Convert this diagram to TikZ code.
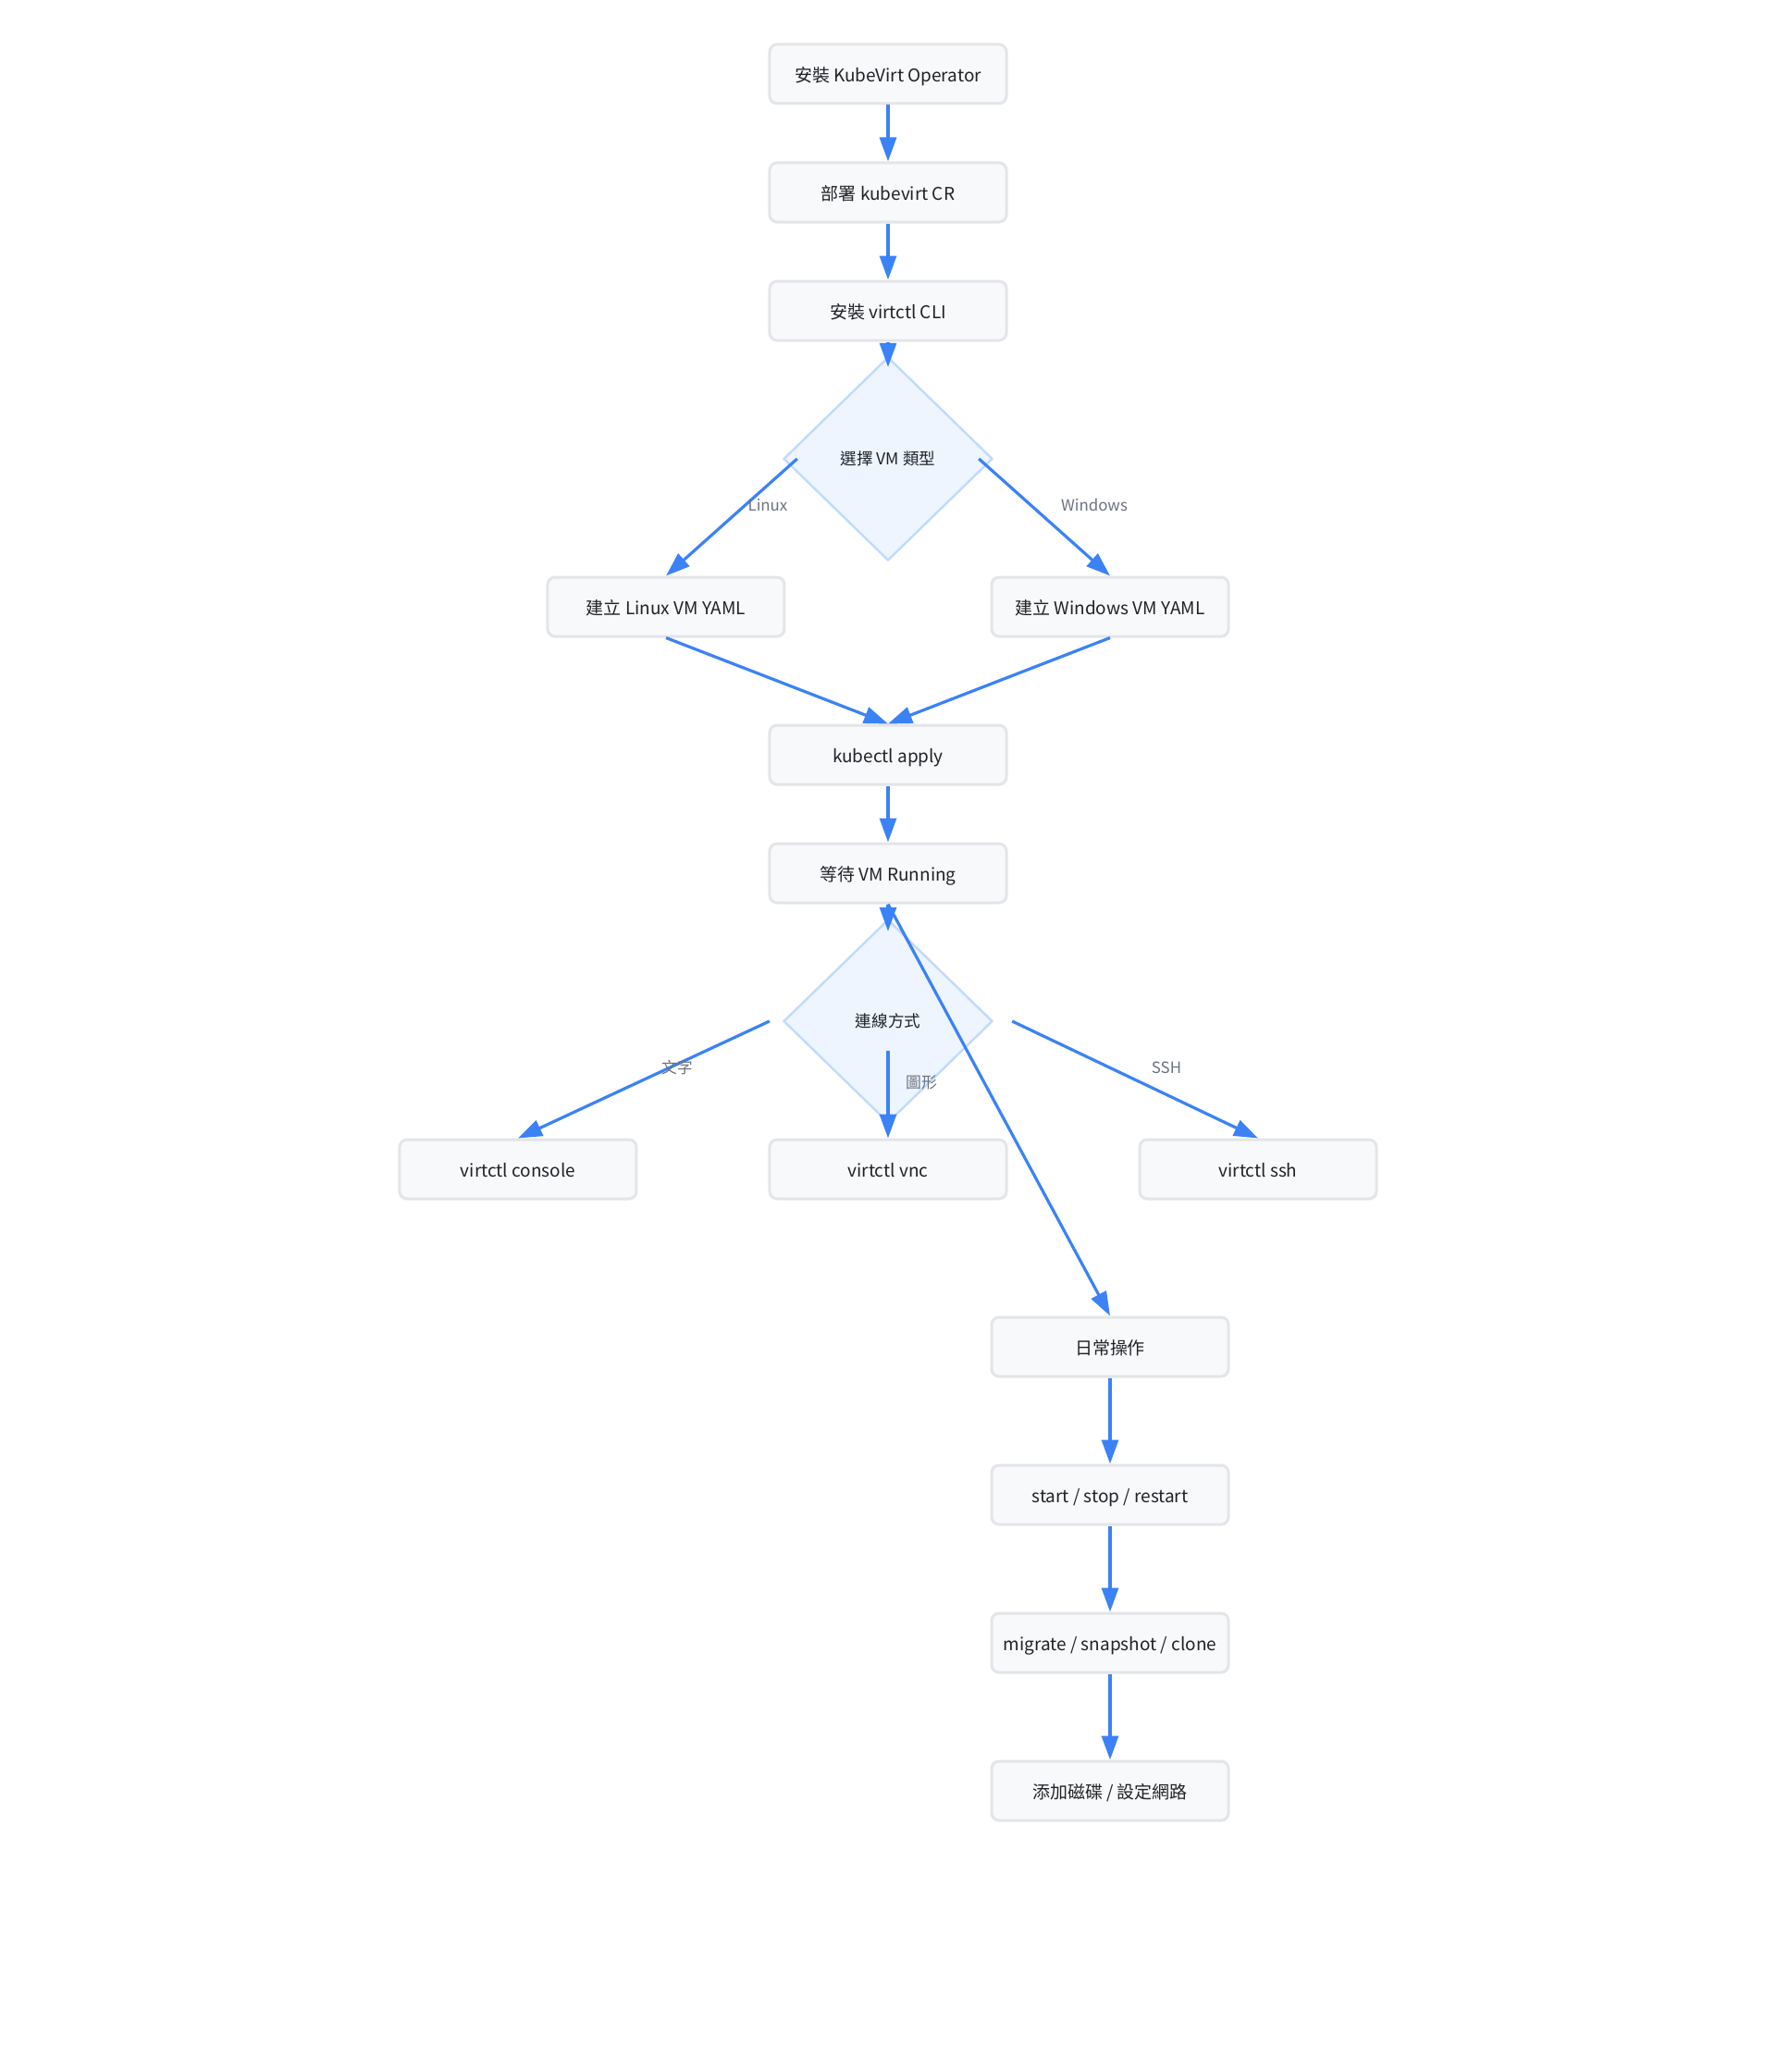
\documentclass[tikz,border=0pt]{standalone}
\usepackage{fontspec}
\setmainfont{Noto Sans CJK TC}
\usetikzlibrary{positioning,arrows.meta,shapes.geometric}
\definecolor{flowblue}{HTML}{3B82F6}
\definecolor{boxfill}{HTML}{F8F9FB}
\definecolor{boxline}{HTML}{E3E5E8}
\definecolor{decfill}{HTML}{EEF5FF}
\definecolor{decline}{HTML}{BFDBFE}
\definecolor{txtdark}{HTML}{1F2328}
\definecolor{lblgray}{HTML}{6B7280}

\begin{document}
\begin{tikzpicture}[
  >={Triangle[length=6.5mm,width=4.5mm]},
  block/.style={draw=boxline, line width=0.75mm, fill=boxfill, rounded corners=2mm, minimum width=64mm, minimum height=16mm, text height=1.2em, text depth=0.05em, align=center, text=txtdark, font=\fontsize{13.5}{16}\selectfont},
  decision/.style={diamond, draw=decline, line width=0.6mm, fill=decfill, minimum width=56.5mm, minimum height=55mm, inner sep=0pt, text=txtdark, font=\fontsize{12.5}{15}\selectfont},
  flow/.style={->, draw=flowblue, line width=0.8mm},
  elabel/.style={text=lblgray, font=\fontsize{12}{14}\selectfont}
]
\useasboundingbox (-240mm,0) rectangle (240mm,-560mm);

\node[block] (op) at (0,-20mm) {安裝 KubeVirt Operator};
\node[block, below=15.25mm of op] (cr) {部署 kubevirt CR};
\node[block, below=15.25mm of cr] (cli) {安裝 virtctl CLI};
\node[decision] (vmtype) at (0,-124mm) {選擇 VM 類型};
\node[block] (linux) at (-60mm,-164mm) {建立 Linux VM YAML};
\node[block] (win) at (60mm,-164mm) {建立 Windows VM YAML};
\node[block] (apply) at (0,-204mm) {kubectl apply};
\node[block, below=15.25mm of apply] (running) {等待 VM Running};
\node[decision] (conn) at (0,-276mm) {連線方式};
\node[block] (console) at (-100mm,-316mm) {virtctl console};
\node[block] (vnc) at (0,-316mm) {virtctl vnc};
\node[block] (ssh) at (100mm,-316mm) {virtctl ssh};

\node[block] (daily) at (60mm,-364mm) {日常操作};
\node[block, below=23.25mm of daily] (power) {start / stop / restart};
\node[block, below=23.25mm of power] (manage) {migrate / snapshot / clone};
\node[block, below=23.25mm of manage] (disknet) {添加磁碟 / 設定網路};

\draw[flow] (op) -- (cr);
\draw[flow] (cr) -- (cli);
\draw[flow] (cli) -- ([yshift=-3mm]vmtype.north);
\draw[flow] ([xshift=4mm]vmtype.west) -- (linux.north);
\draw[flow] ([xshift=-4mm]vmtype.east) -- (win.north);
\draw[flow] (linux.south) -- (apply.north);
\draw[flow] (win.south) -- (apply.north);
\draw[flow] (apply) -- (running);
\draw[flow] (running.south) -- ([yshift=-3.5mm]conn.north);
\draw[flow] (running.south) -- (daily.north);
\draw[flow] ([xshift=-3.5mm]conn.west) -- (console.north);
\draw[flow] ([yshift=-8mm]conn.center) -- (vnc.north);
\draw[flow] ([xshift=5mm]conn.east) -- (ssh.north);
\draw[flow] (daily) -- (power);
\draw[flow] (power) -- (manage);
\draw[flow] (manage) -- (disknet);

\node[elabel] (lLinux) at (-32.5mm,-136.5mm) {Linux};
\node[elabel] (lWin) at (55.75mm,-136.5mm) {Windows};
\node[elabel] (lText) at (-57mm,-288.5mm) {文字};
\node[elabel] (lGfx) at (9mm,-292.5mm) {圖形};
\node[elabel] (lSsh) at (75.25mm,-288.5mm) {SSH};
\end{tikzpicture}
\end{document}
